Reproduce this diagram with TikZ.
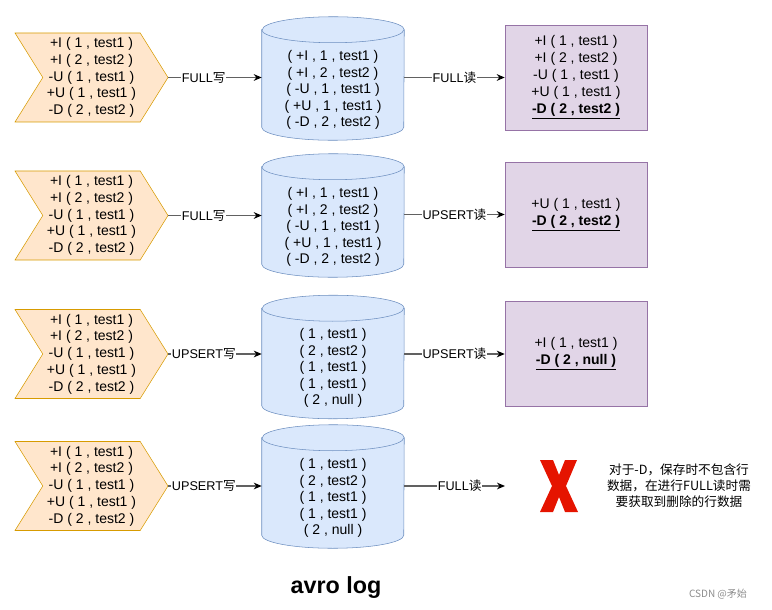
\documentclass[tikz,border=0pt]{standalone}
\usepackage{fontspec}
\setmainfont{Liberation Sans}
\newfontfamily\cjk{Noto Sans CJK SC}
\usetikzlibrary{arrows.meta}
\usetikzlibrary{shapes.symbols}
\definecolor{chvfill}{HTML}{FFE6CC}
\definecolor{chvline}{HTML}{D79B00}
\definecolor{dbfill}{HTML}{DAE8FC}
\definecolor{dbline}{HTML}{6C8EBF}
\definecolor{resfill}{HTML}{E1D5E7}
\definecolor{resline}{HTML}{9673A6}
\definecolor{xred}{HTML}{E51400}
\newcommand\drawdb[1]{%
  \draw[draw=dbline, fill=dbfill] ([yshift=-9.75pt]#1.north west) -- ([yshift=9.75pt]#1.south west)
    arc[start angle=180, end angle=360, x radius=53.25pt, y radius=9.75pt]
    -- ([yshift=-9.75pt]#1.north east)
    arc[start angle=0, end angle=180, x radius=53.25pt, y radius=9.75pt] -- cycle;
  \draw[draw=dbline] ([yshift=-9.75pt]#1.north west)
    arc[start angle=180, end angle=360, x radius=53.25pt, y radius=9.75pt];}
\tikzset{
  chevron/.style = {signal, signal from=west, signal to=east, signal pointer angle=116,
    fill=chvfill, draw=chvline, minimum width=114.75pt, minimum height=66.75pt,
    inner sep=0pt, align=center, font=\fontsize{10.5}{12.6}\selectfont},
  dbase/.style = {rectangle, minimum width=106.5pt, minimum height=92.25pt, inner sep=0pt},
  dbtext/.style = {align=center, font=\fontsize{10.5}{12.4}\selectfont},
  result/.style = {rectangle, fill=resfill, draw=resline, minimum width=106.5pt,
    minimum height=78.75pt, align=center, font=\fontsize{10.5}{12.75}\selectfont},
  link/.style = {draw=black!62, line width=0.9pt, -{Stealth[length=6pt,width=5pt,color=black]}},
  lbl/.style = {fill=white, inner sep=0.5pt, font=\fontsize{9.5}{11}\selectfont}
}
\begin{document}
\begin{tikzpicture}[x=0.75pt, y=-0.75pt]
\useasboundingbox (0,0) rectangle (772,610);

\node[chevron] (chv1) at (91.5,77.5) {+I ( 1 , test1 )\\+I ( 2 , test2 )\\-U ( 1 , test1 )\\+U ( 1 , test1 )\\-D ( 2 , test2 )};
\node[chevron] (chv2) at (91.5,215.5) {+I ( 1 , test1 )\\+I ( 2 , test2 )\\-U ( 1 , test1 )\\+U ( 1 , test1 )\\-D ( 2 , test2 )};
\node[chevron] (chv3) at (91.5,354) {+I ( 1 , test1 )\\+I ( 2 , test2 )\\-U ( 1 , test1 )\\+U ( 1 , test1 )\\-D ( 2 , test2 )};
\node[chevron] (chv4) at (91.5,486) {+I ( 1 , test1 )\\+I ( 2 , test2 )\\-U ( 1 , test1 )\\+U ( 1 , test1 )\\-D ( 2 , test2 )};

\node[dbase] (db1) at (333,78.5) {};
\node[dbase] (db2) at (333,215.5) {};
\node[dbase] (db3) at (333,357) {};
\node[dbase] (db4) at (333,486.5) {};
\drawdb{db1}
\drawdb{db2}
\drawdb{db3}
\drawdb{db4}
\node[dbtext] (db1t) at (333,90) {( +I , 1 , test1 )\\( +I , 2 , test2 )\\( -U , 1 , test1 )\\( +U , 1 , test1 )\\( -D , 2 , test2 )};
\node[dbtext] (db2t) at (333,227) {( +I , 1 , test1 )\\( +I , 2 , test2 )\\( -U , 1 , test1 )\\( +U , 1 , test1 )\\( -D , 2 , test2 )};
\node[dbtext] (db3t) at (333,368) {( 1 , test1 )\\( 2 , test2 )\\( 1 , test1 )\\( 1 , test1 )\\( 2 , null )};
\node[dbtext] (db4t) at (333,498) {( 1 , test1 )\\( 2 , test2 )\\( 1 , test1 )\\( 1 , test1 )\\( 2 , null )};

\node[result] (res1) at (576,77.5) {+I ( 1 , test1 )\\+I ( 2 , test2 )\\-U ( 1 , test1 )\\+U ( 1 , test1 )\\\underline{\textbf{-D ( 2 , test2 )}}};
\node[result] (res2) at (576,214.5) {+U ( 1 , test1 )\\\underline{\textbf{-D ( 2 , test2 )}}};
\node[result] (res3) at (576,354) {+I ( 1 , test1 )\\\underline{\textbf{-D ( 2 , null )}}};
\coordinate (end4) at (505,486);

\draw[link] (chv1.east) -- (chv1.east -| db1.west) node[lbl, pos=.38] {FULL{\cjk 写}};
\draw[link] (chv2.east) -- (chv2.east -| db2.west) node[lbl, pos=.38] {FULL{\cjk 写}};
\draw[link] (chv3.east) -- (chv3.east -| db3.west) node[lbl, pos=.38] {UPSERT{\cjk 写}};
\draw[link] (chv4.east) -- (chv4.east -| db4.west) node[lbl, pos=.38] {UPSERT{\cjk 写}};
\draw[link] (res1.west -| db1.east) -- (res1.west) node[lbl, pos=.5] {FULL{\cjk 读}};
\draw[link] (res2.west -| db2.east) -- (res2.west) node[lbl, pos=.5] {UPSERT{\cjk 读}};
\draw[link] (res3.west -| db3.east) -- (res3.west) node[lbl, pos=.5] {UPSERT{\cjk 读}};
\draw[link] (end4 -| db4.east) -- (end4) node[lbl, pos=.55] {FULL{\cjk 读}};

\fill[xred] (540,460) -- (553,460) -- (559,475) -- (565,460) -- (577,460) -- (566,486)
  -- (578,512) -- (565,512) -- (559,497) -- (553,512) -- (540,512) -- (552,486) -- cycle;
\node[align=center, font=\cjk\fontsize{9.5}{12}\selectfont] (note) at (679,486) {对于-D，保存时不包含行\\数据，在进行FULL读时需\\要获取到删除的行数据};

\node[font=\fontsize{17.5}{20}\bfseries] (title) at (336,588) {avro log};
\node[text=black!45, font=\cjk\fontsize{7.5}{9}\selectfont] (mark) at (718,594) {CSDN @矛始};
\end{tikzpicture}
\end{document}
